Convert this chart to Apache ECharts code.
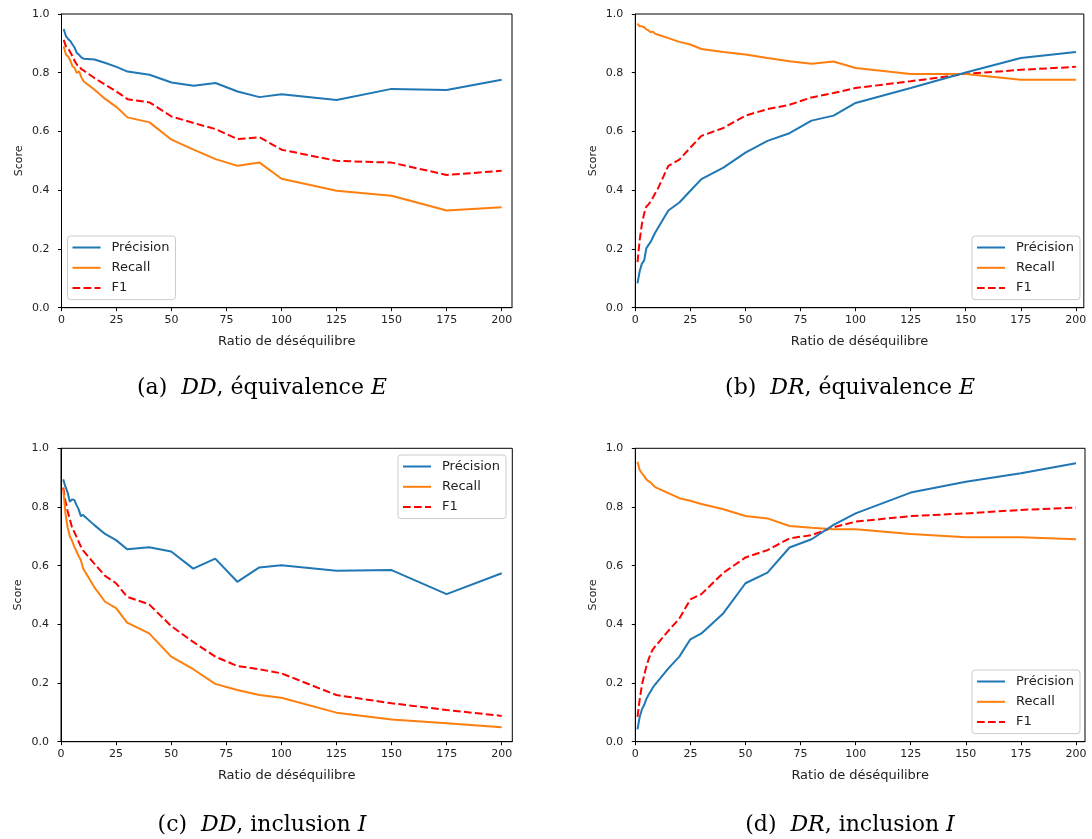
<!DOCTYPE html>
<html>
<head>
<meta charset="utf-8">
<script src="https://cdn.jsdelivr.net/npm/echarts@6/dist/echarts.min.js"></script>
<style>
html,body{margin:0;padding:0;background:#fff;}
#chart{width:1092px;height:839px;}
</style>
</head>
<body>
<div id="chart"></div>
<script>
// ---- data ----
const ratios = [1,2,3,4,5,6,7,8,9,10,15,20,25,30,40,50,60,70,80,90,100,125,150,175,200];
const xTicks = [0,25,50,75,100,125,150,175,200];
const yTicks = [0,0.2,0.4,0.6,0.8,1.0];
const seriesNames = ['Précision','Recall','F1'];
const xAxisName = 'Ratio de déséquilibre';
const yAxisName = 'Score';

// (a) DD, équivalence E
const ddE_precision = [0.949,0.925,0.915,0.908,0.896,0.885,0.867,0.861,0.852,0.848,0.845,0.833,0.820,0.804,0.793,0.767,0.756,0.765,0.736,0.717,0.727,0.707,0.745,0.741,0.776];
const ddE_recall    = [0.890,0.862,0.855,0.842,0.822,0.816,0.799,0.805,0.785,0.771,0.742,0.710,0.683,0.648,0.631,0.572,0.538,0.506,0.483,0.494,0.439,0.398,0.381,0.331,0.342];
const ddE_f1        = [0.912,0.890,0.884,0.870,0.856,0.840,0.827,0.825,0.812,0.808,0.782,0.759,0.736,0.710,0.699,0.651,0.629,0.608,0.574,0.580,0.538,0.500,0.494,0.452,0.466];
// (b) DR, équivalence E
const drE_precision = [0.083,0.125,0.150,0.160,0.202,0.214,0.224,0.240,0.255,0.268,0.331,0.358,0.398,0.438,0.477,0.528,0.568,0.594,0.637,0.654,0.697,0.748,0.801,0.850,0.871];
const drE_recall    = [0.967,0.958,0.958,0.955,0.948,0.944,0.938,0.940,0.933,0.930,0.918,0.905,0.896,0.881,0.871,0.862,0.850,0.839,0.831,0.838,0.816,0.796,0.796,0.776,0.776];
const drE_f1        = [0.155,0.231,0.285,0.320,0.344,0.352,0.362,0.375,0.389,0.401,0.483,0.504,0.545,0.585,0.612,0.654,0.676,0.691,0.716,0.731,0.748,0.771,0.796,0.810,0.820];
// (c) DD, inclusion I
const ddI_precision = [0.894,0.869,0.850,0.818,0.826,0.824,0.807,0.792,0.769,0.773,0.739,0.708,0.687,0.656,0.663,0.648,0.590,0.624,0.545,0.594,0.601,0.583,0.585,0.503,0.574];
const ddI_recall    = [0.863,0.780,0.730,0.700,0.685,0.665,0.650,0.633,0.619,0.591,0.528,0.477,0.455,0.406,0.369,0.290,0.247,0.197,0.176,0.159,0.150,0.099,0.076,0.063,0.049];
const ddI_f1        = [0.866,0.820,0.786,0.758,0.731,0.715,0.699,0.682,0.665,0.652,0.608,0.565,0.540,0.494,0.468,0.394,0.340,0.290,0.258,0.247,0.233,0.159,0.131,0.108,0.088];
// (d) DR, inclusion I
const drI_precision = [0.042,0.085,0.110,0.125,0.145,0.160,0.172,0.185,0.195,0.204,0.250,0.290,0.349,0.369,0.438,0.540,0.576,0.662,0.690,0.739,0.778,0.849,0.886,0.915,0.949];
const drI_recall    = [0.954,0.926,0.915,0.905,0.894,0.888,0.883,0.875,0.868,0.864,0.847,0.830,0.821,0.810,0.792,0.769,0.761,0.735,0.729,0.724,0.724,0.708,0.697,0.697,0.690];
const drI_f1        = [0.085,0.144,0.193,0.225,0.256,0.280,0.301,0.315,0.325,0.333,0.378,0.420,0.485,0.503,0.576,0.628,0.653,0.693,0.704,0.731,0.750,0.769,0.778,0.790,0.798];

const captionLabels = ['(a)','(b)','(c)','(d)'];
const captionDatasets = ['DD','DR','DD','DR'];
const captionRelations = ['équivalence','équivalence','inclusion','inclusion'];
const captionSymbols = ['E','E','I','I'];

// ---- layout (pixels) ----
const panels = [
  {left:61.5, top:14,    width:450.5, height:293.7, xmax:204.7, data:[ddE_precision, ddE_recall, ddE_f1], legend:{left:67.5, top:236}},
  {left:635.3,top:14,    width:448.5, height:293.7, xmax:203.6, data:[drE_precision, drE_recall, drE_f1], legend:{right:12, top:236}},
  {left:61,   top:448.3, width:451.3, height:293.4, xmax:204.8, data:[ddI_precision, ddI_recall, ddI_f1], legend:{right:586, top:455}},
  {left:635.3,top:448.3, width:449.7, height:293.4, xmax:204.1, data:[drI_precision, drI_recall, drI_f1], legend:{right:12, top:670}}
];
const captionPos = [[262,388],[850,388],[262,825],[850,825]];
const colors = ['#1f77b4','#ff7f0e','#ff0000'];
const SANS = 'DejaVu Sans';

const grid=[], xAxis=[], yAxis=[], series=[], legend=[], graphic=[];
panels.forEach((p,i)=>{
  grid.push({left:p.left, top:p.top, width:p.width, height:p.height, show:true, borderColor:'#000', borderWidth:1, backgroundColor:'transparent', outerBoundsMode:'none'});
  xAxis.push({
    type:'value', gridIndex:i, min:0, max:p.xmax,
    name:xAxisName, nameLocation:'middle', nameGap:27,
    nameTextStyle:{fontFamily:SANS, fontSize:13, color:'#222'},
    axisLine:{show:true, onZero:false, lineStyle:{color:'#000', width:1}},
    axisTick:{show:true, length:3.5, lineStyle:{color:'#000', width:1}, customValues:xTicks},
    axisLabel:{customValues:xTicks, fontFamily:SANS, fontSize:11, color:'#222', margin:7},
    splitLine:{show:false}
  });
  yAxis.push({
    type:'value', gridIndex:i, min:0, max:1, interval:0.2,
    name:yAxisName, nameLocation:'middle', nameGap:37,
    nameTextStyle:{fontFamily:SANS, fontSize:11, color:'#222'},
    axisLine:{show:true, onZero:false, lineStyle:{color:'#000', width:1}},
    axisTick:{show:true, length:3.5, lineStyle:{color:'#000', width:1}, customValues:yTicks},
    axisLabel:{customValues:yTicks, fontFamily:SANS, fontSize:11, color:'#222', margin:12, formatter:v=>v.toFixed(1)},
    splitLine:{show:false}
  });
  seriesNames.forEach((name,k)=>{
    series.push({
      type:'line', name:name, xAxisIndex:i, yAxisIndex:i,
      data: ratios.map((r,j)=>[r, p.data[k][j]]),
      symbol:'none', showSymbol:false, smooth:false, animation:false,
      lineStyle:{color:colors[k], width:2, type: k===2 ? [7.7,3.3] : 'solid'},
      itemStyle:{color:colors[k]},
      z: 3-k
    });
  });
  legend.push(Object.assign({
    orient:'vertical', data:seriesNames, itemWidth:28, itemHeight:14, itemGap:7.3,
    padding:[5,6,5,4], backgroundColor:'rgba(255,255,255,0.8)', borderColor:'#cccccc', borderWidth:1, borderRadius:3,
    itemStyle:{color:'rgba(0,0,0,0)', borderColor:'rgba(0,0,0,0)', borderWidth:0, opacity:0},
    textStyle:{fontFamily:SANS, fontSize:13, color:'#222', padding:[0,0,0,6]},
    selectedMode:false
  }, p.legend));
  const c = captionPos[i];
  graphic.push({
    type:'text', x:c[0], y:c[1],
    style:{
      text:'{n|'+captionLabels[i]+'}  {i|'+captionDatasets[i]+'}{n|, '+captionRelations[i]+' }{i|'+captionSymbols[i]+'}',
      textAlign:'center', textVerticalAlign:'middle',
      rich:{
        n:{fontFamily:'DejaVu Serif', fontSize:22, fill:'#000'},
        i:{fontFamily:'DejaVu Serif', fontStyle:'italic', fontSize:22, fill:'#000'}
      },
      font:'22px DejaVu Serif', fill:'#000'
    }
  });
});

const chart = echarts.init(document.getElementById('chart'), null, {renderer:'canvas'});
chart.setOption({animation:false, backgroundColor:'#fff', grid, xAxis, yAxis, series, legend, graphic});
</script>
</body>
</html>
